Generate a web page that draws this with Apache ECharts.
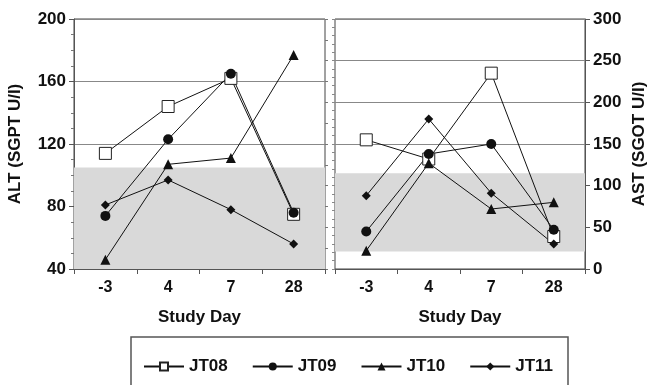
<!DOCTYPE html>
<html><head><meta charset="utf-8">
<script src="https://cdn.jsdelivr.net/npm/echarts@6/dist/echarts.min.js"></script>
<style>html,body{margin:0;padding:0;background:#fff}#c{width:649px;height:385px}</style>
</head><body><div id="c"></div>
<script>
const days = ['-3','4','7','28'];
const altJT08 = [114,144,162,75];
const altJT09 = [74,123,165,76];
const altJT10 = [46,107,111,177];
const altJT11 = [81,97,78,56];
const astJT08 = [155,132,235,39];
const astJT09 = [45,138,150,47];
const astJT10 = [22,127,72,80];
const astJT11 = [88,180,91,30];
const altBand = [40,105];
const astBand = [21,115];
const altTicks = {min:40,max:200,interval:40};
const astTicks = {min:0,max:300,interval:50};

const F = 'Liberation Sans, Arial, sans-serif';
const chart = echarts.init(document.getElementById('c'));
const sym = {
  JT08:{symbol:'rect',symbolSize:12,item:{color:'#fff',borderColor:'#222',borderWidth:1}},
  JT09:{symbol:'circle',symbolSize:10,item:{color:'#111'}},
  JT10:{symbol:'triangle',symbolSize:10,item:{color:'#111'}},
  JT11:{symbol:'diamond',symbolSize:9,item:{color:'#111'}}
};
function mk(name,data,idx,band){
  const s = {
    name:name,type:'line',data:data,xAxisIndex:idx,yAxisIndex:idx,
    symbol:sym[name].symbol,symbolSize:sym[name].symbolSize,
    itemStyle:sym[name].item,lineStyle:{color:'#111',width:1},
    z:3
  };
  if(band){
    s.markArea={silent:true,itemStyle:{color:'#d9d9d9'},data:[[{yAxis:band[0]},{yAxis:band[1]}]]};
  }
  return s;
}
const xa = (g)=>({type:'category',gridIndex:g,data:days,boundaryGap:true,
  axisLine:{lineStyle:{color:'#555',width:1}},
  axisTick:{show:true,length:5,lineStyle:{color:'#555'}},
  axisLabel:{color:'#111',fontFamily:F,fontWeight:'bold',fontSize:16,margin:11},
  name:'Study Day',nameLocation:'middle',nameGap:40,
  nameTextStyle:{color:'#111',fontFamily:F,fontWeight:'bold',fontSize:17}});
chart.setOption({
  animation:false,
  grid:[
    {left:74,top:19,width:251,height:250,show:true,borderColor:'#444',borderWidth:1},
    {left:335,top:19,width:250,height:250,show:true,borderColor:'#444',borderWidth:1}
  ],
  xAxis:[xa(0),xa(1)],
  yAxis:[
    {type:'value',gridIndex:0,min:altTicks.min,max:altTicks.max,interval:altTicks.interval,position:'left',
     axisLine:{show:true,lineStyle:{color:'#555'}},axisTick:{show:true,length:5,lineStyle:{color:'#555'}},
     minorTick:{show:true,splitNumber:4,length:3,lineStyle:{color:'#777'}},
     splitLine:{show:true,lineStyle:{color:'#888',width:1}},
     axisLabel:{color:'#111',fontFamily:F,fontWeight:'bold',fontSize:17,margin:8},
     name:'ALT (SGPT U/I)',nameLocation:'middle',nameRotate:90,nameGap:50,
     nameTextStyle:{color:'#111',fontFamily:F,fontWeight:'bold',fontSize:17}},
    {type:'value',gridIndex:1,min:astTicks.min,max:astTicks.max,interval:astTicks.interval,position:'right',
     axisLine:{show:true,lineStyle:{color:'#555'}},axisTick:{show:true,length:5,lineStyle:{color:'#555'}},
     splitLine:{show:true,lineStyle:{color:'#888',width:1}},
     axisLabel:{color:'#111',fontFamily:F,fontWeight:'bold',fontSize:17,margin:8},
     name:'AST (SGOT U/I)',nameLocation:'middle',nameRotate:90,nameGap:46,
     nameTextStyle:{color:'#111',fontFamily:F,fontWeight:'bold',fontSize:17}},
    {type:'value',gridIndex:0,min:0,max:300,interval:25,position:'right',
     axisLine:{show:false},axisTick:{show:true,length:3,lineStyle:{color:'#777'}},
     splitLine:{show:false},axisLabel:{show:false}},
    {type:'value',gridIndex:1,min:0,max:300,interval:10,position:'left',
     axisLine:{show:false},axisTick:{show:true,length:3,lineStyle:{color:'#888'}},
     splitLine:{show:false},axisLabel:{show:false}}
  ],
  legend:{
    left:138,top:353,itemWidth:40,itemHeight:10,itemGap:24,
    data:['JT08','JT09','JT10','JT11'],
    textStyle:{color:'#111',fontFamily:F,fontWeight:'bold',fontSize:17}
  },
  graphic:[{type:'rect',shape:{x:131,y:337,width:437,height:70},
    style:{fill:'none',stroke:'#555',lineWidth:1.5},silent:true}],
  series:[
    mk('JT08',altJT08,0,altBand),mk('JT09',altJT09,0),mk('JT10',altJT10,0),mk('JT11',altJT11,0),
    mk('JT08',astJT08,1,astBand),mk('JT09',astJT09,1),mk('JT10',astJT10,1),mk('JT11',astJT11,1)
  ]
});
</script></body></html>
